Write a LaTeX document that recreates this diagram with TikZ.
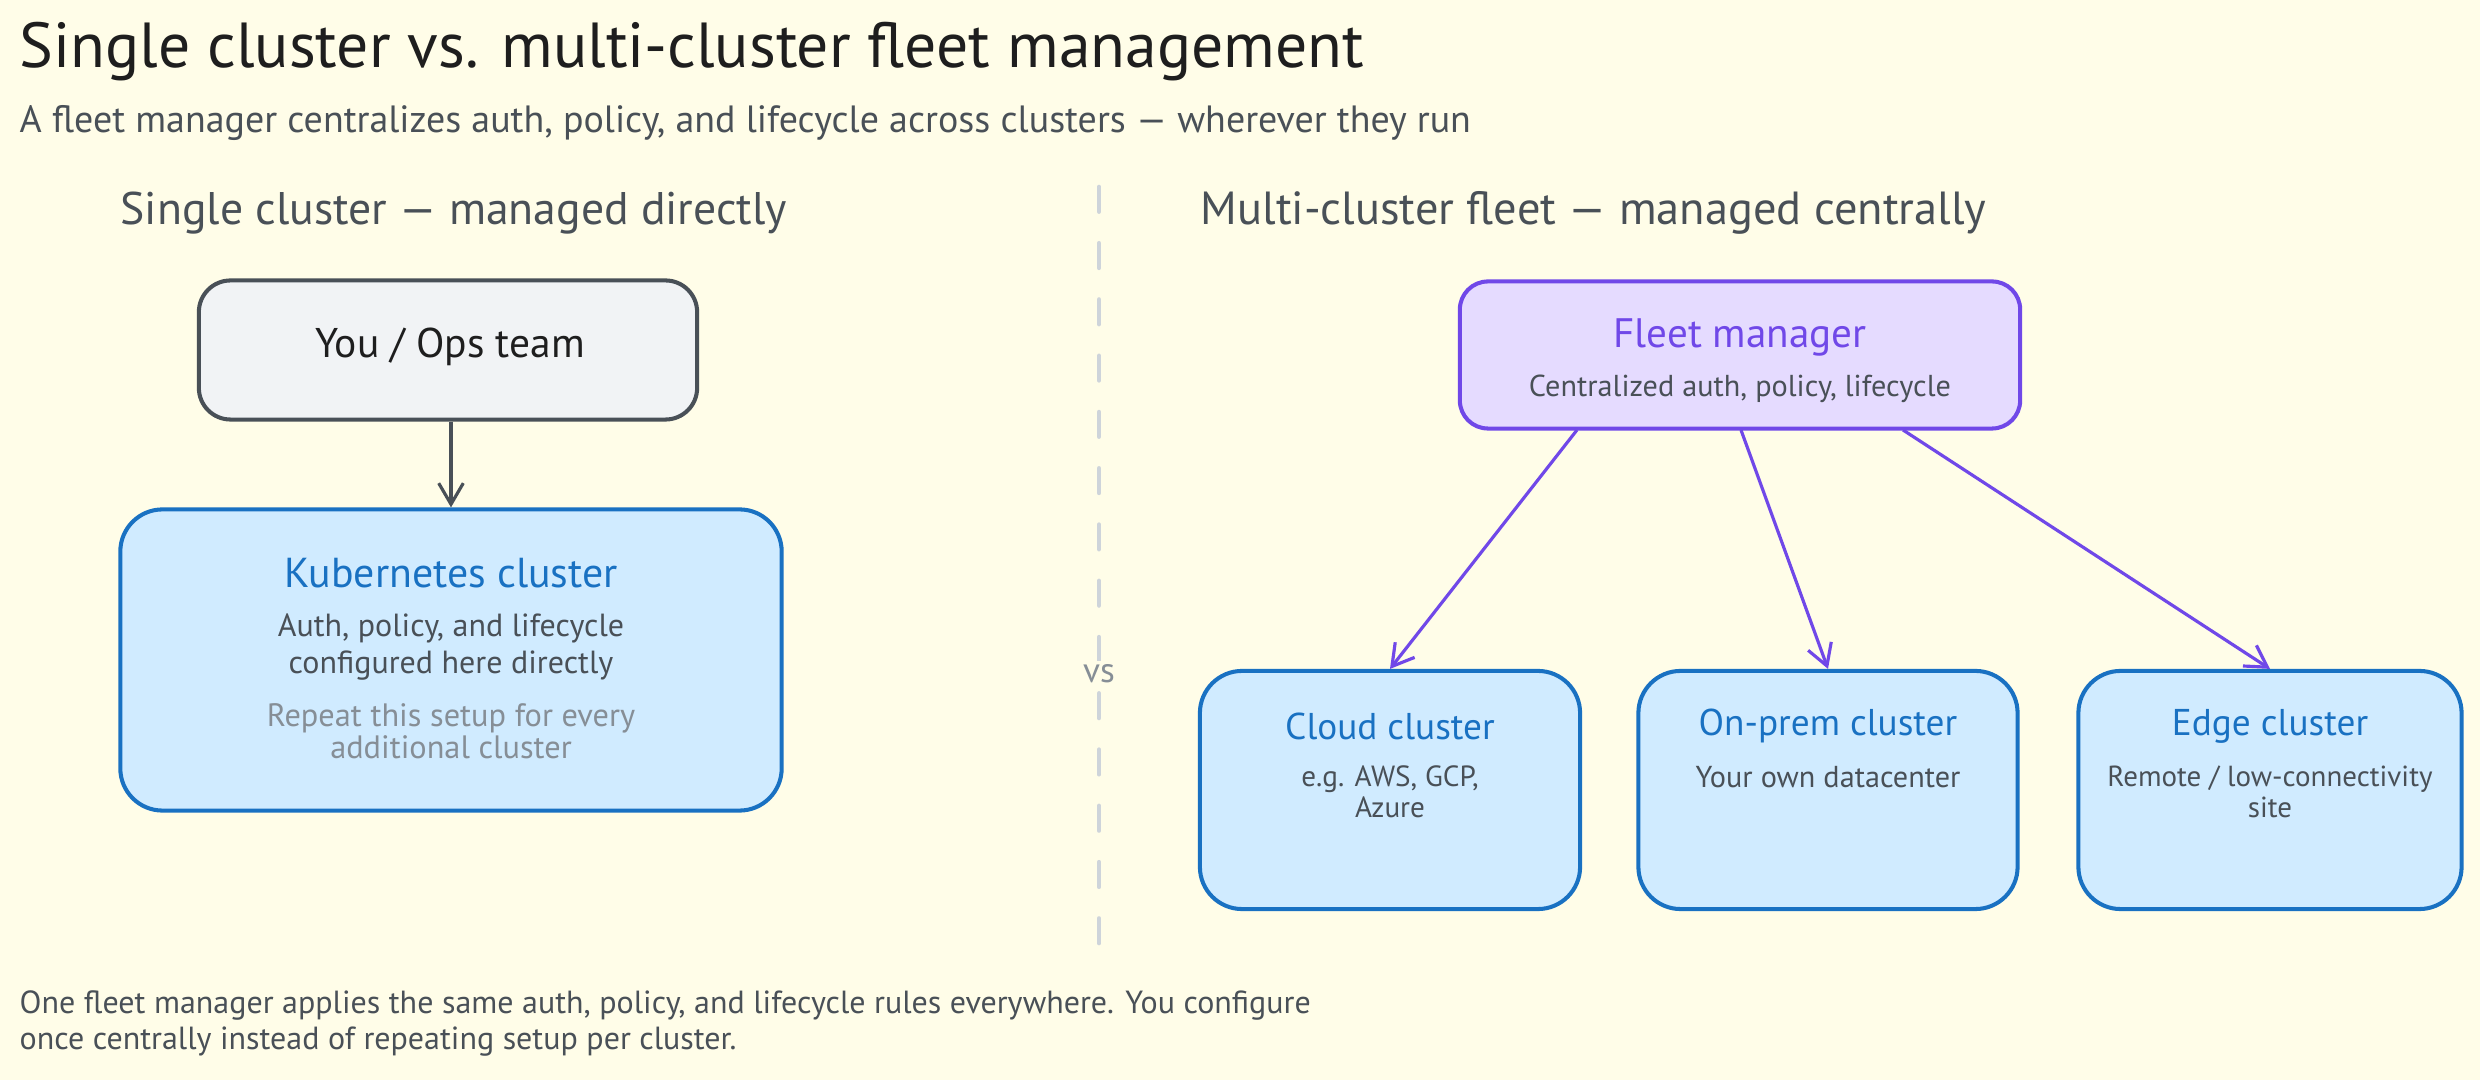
\documentclass[tikz,border=0pt]{standalone}
\usepackage{fontspec}
\setmainfont{PT Sans}
\usetikzlibrary{arrows.meta}
\definecolor{bg}{HTML}{FFFDE8}
\definecolor{ink}{HTML}{1E1E1E}
\definecolor{inkgray}{HTML}{495057}
\definecolor{softgray}{HTML}{868E96}
\definecolor{divgray}{HTML}{CED4DA}
\definecolor{boxgrayfill}{HTML}{F1F3F5}
\definecolor{blueline}{HTML}{1971C2}
\definecolor{bluefill}{HTML}{D0EBFF}
\definecolor{violetline}{HTML}{7048E8}
\definecolor{violetfill}{HTML}{E5DBFF}
\tikzset{
  txt/.style={inner sep=0pt, anchor=west},
  ctxt/.style={inner sep=0pt, anchor=center, align=center},
  graybox/.style={draw=inkgray, fill=boxgrayfill, line width=1.15pt, rounded corners=9pt, inner sep=0pt},
  bluebox/.style={draw=blueline, fill=bluefill, line width=1.15pt, rounded corners=12pt, inner sep=0pt},
  violetbox/.style={draw=violetline, fill=violetfill, line width=1.15pt, rounded corners=8pt, inner sep=0pt},
  conn/.style={line width=0.9pt, -{Straight Barb[length=6pt,width=7pt,line width=0.9pt]}},
}
\begin{document}
\begin{tikzpicture}[x=0.01cm, y=-0.01cm]
\useasboundingbox (0,0) rectangle (2480,1080);
\fill[bg] (0,0) rectangle (2480,1080);

% title & subtitle
\node[txt, text=ink, font=\fontsize{18.1}{20}\selectfont] (title) at (19,52) {Single cluster vs. multi-cluster fleet management};
\node[txt, text=inkgray, font=\fontsize{10.8}{12}\selectfont] (subtitle) at (19,123) {A fleet manager centralizes auth, policy, and lifecycle across clusters — wherever they run};

% section headers
\node[txt, text=inkgray, font=\fontsize{13}{15}\selectfont] (hleft) at (120,213) {Single cluster — managed directly};
\node[txt, text=inkgray, font=\fontsize{13.2}{15}\selectfont] (hright) at (1200,213) {Multi-cluster fleet — managed centrally};

% divider
\coordinate (dtop) at (1099,187);
\coordinate (dbot) at (1099,952);
\draw[divgray, line width=1.3pt, dash pattern=on 7pt off 9pt, line cap=round] (dtop) -- (dbot);
\node[ctxt, text=softgray, font=\fontsize{10}{11}\selectfont, fill=bg, inner sep=1pt] (vs) at (1099,674) {vs};

% left side
\node[graybox, minimum width=4.98cm, minimum height=1.39cm] (ops) at (448,350) {};
\node[ctxt, text=ink, font=\fontsize{11.8}{13}\selectfont] (opst) at (450,347) {You / Ops team};

\node[bluebox, minimum width=6.61cm, minimum height=3.01cm] (kube) at (451,660) {};
\node[ctxt, text=blueline, font=\fontsize{11.9}{13}\selectfont] (kubet) at (451,573) {Kubernetes cluster};
\node[ctxt, text=inkgray, font=\fontsize{9.1}{10.5}\selectfont] (kubes) at (451,647) {Auth, policy, and lifecycle\\configured here directly};
\node[ctxt, text=softgray, font=\fontsize{9.2}{9}\selectfont] (kuben) at (451,731) {Repeat this setup for every\\additional cluster};

\draw[conn, inkgray] (ops.south -| kube.north) -- (kube.north);

% right side
\node[violetbox, minimum width=5.6cm, minimum height=1.47cm] (fleet) at (1740,355) {};
\node[ctxt, text=violetline, font=\fontsize{11.7}{13}\selectfont] (fleett) at (1740,337) {Fleet manager};
\node[ctxt, text=inkgray, font=\fontsize{8.6}{9}\selectfont] (fleets) at (1740,389) {Centralized auth, policy, lifecycle};

\node[bluebox, minimum width=3.8cm, minimum height=2.38cm] (cloud) at (1390,790) {};
\node[bluebox, minimum width=3.79cm, minimum height=2.38cm] (onprem) at (1828,790) {};
\node[bluebox, minimum width=3.83cm, minimum height=2.38cm] (edge) at (2270,790) {};

\node[ctxt, text=blueline, font=\fontsize{10.6}{11}\selectfont] (cloudt) at (1390,726) {Cloud cluster};
\node[ctxt, text=inkgray, font=\fontsize{8.3}{8.8}\selectfont] (clouds) at (1390,792) {e.g. AWS, GCP,\\Azure};
\node[ctxt, text=blueline, font=\fontsize{10.6}{11}\selectfont] (onpremt) at (1828,726) {On-prem cluster};
\node[ctxt, text=inkgray, font=\fontsize{8.6}{8.8}\selectfont] (onprems) at (1828,777) {Your own datacenter};
\node[ctxt, text=blueline, font=\fontsize{10.6}{11}\selectfont] (edget) at (2270,726) {Edge cluster};
\node[ctxt, text=inkgray, font=\fontsize{8.25}{8.8}\selectfont] (edges) at (2270,792) {Remote / low-connectivity\\site};

\coordinate (f1) at (1577,430);
\coordinate (f2) at (1741,430);
\coordinate (f3) at (1903,430);
\draw[conn, violetline] (f1) -- (cloud.north);
\draw[conn, violetline] (f2) -- (onprem.north);
\draw[conn, violetline] (f3) -- (edge.north);

% footer
\node[txt, anchor=north west, align=left, text=inkgray, font=\fontsize{9.1}{10.3}\selectfont] (footer) at (19,990) {One fleet manager applies the same auth, policy, and lifecycle rules everywhere. You configure\\once centrally instead of repeating setup per cluster.};
\end{tikzpicture}
\end{document}
